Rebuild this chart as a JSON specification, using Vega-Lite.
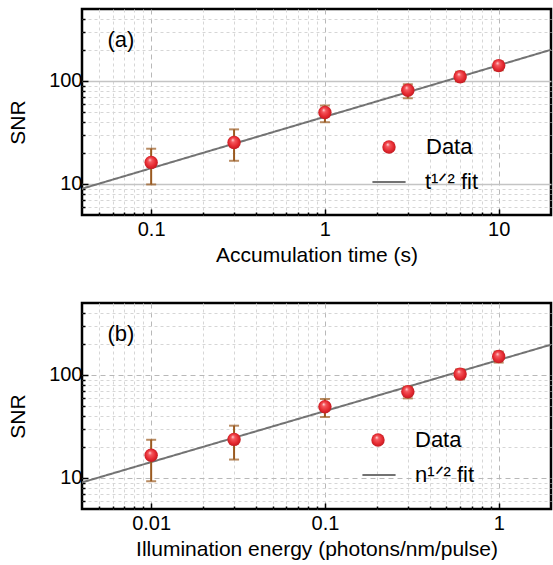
{
  "$schema": "https://vega.github.io/schema/vega-lite/v6.json",
  "padding": {"left": 6, "top": 7, "right": 0, "bottom": 0},
  "background": "white",
  "datasets": {
    "a_data": [
      {"t": 0.1, "snr": 16.2, "lo": 9.9, "hi": 22.0},
      {"t": 0.3, "snr": 25.3, "lo": 16.8, "hi": 33.9},
      {"t": 1, "snr": 49.4, "lo": 39.8, "hi": 57.8},
      {"t": 3, "snr": 81.3, "lo": 68.0, "hi": 92.9},
      {"t": 6, "snr": 110, "lo": 99, "hi": 123},
      {"t": 10, "snr": 141, "lo": 127, "hi": 155}
    ],
    "a_fit": [{"t": 0.04, "snr": 9.0}, {"t": 20, "snr": 201}],
    "b_data": [
      {"t": 0.01, "snr": 16.6, "lo": 9.3, "hi": 23.5},
      {"t": 0.03, "snr": 23.7, "lo": 15.1, "hi": 32.2},
      {"t": 0.1, "snr": 49.2, "lo": 39.1, "hi": 58.5},
      {"t": 0.3, "snr": 68.9, "lo": 59.3, "hi": 77.0},
      {"t": 0.6, "snr": 102, "lo": 90.6, "hi": 113.5},
      {"t": 1, "snr": 151, "lo": 132, "hi": 169}
    ],
    "b_fit": [{"t": 0.004, "snr": 9.06}, {"t": 2, "snr": 197}],
    "a_tag": [{"tag": "(a)"}],
    "b_tag": [{"tag": "(b)"}]
  },
  "config": {
    "font": "Liberation Sans",
    "view": {"stroke": "black", "strokeWidth": 2.5},
    "axis": {
      "domain": false,
      "grid": true,
      "labelOverlap": false,
      "labelFont": "Liberation Sans",
      "labelFontSize": 20,
      "labelColor": "black",
      "titleFont": "Liberation Sans",
      "titleFontSize": 21,
      "titleFontWeight": "normal",
      "titleColor": "black",
      "tickColor": "black",
      "tickWidth": 1.5,
      "gridWidth": 1
    },
    "legend": {
      "title": null,
      "orient": "none",
      "padding": 0,
      "labelFont": "Liberation Sans",
      "labelFontSize": 22,
      "labelColor": "black",
      "labelLimit": 300
    }
  },
  "resolve": {
    "scale": {"x": "independent", "y": "independent", "shape": "independent", "strokeDash": "independent"},
    "legend": {"shape": "independent", "strokeDash": "independent"}
  },
  "spacing": 34,
  "vconcat": [
    {
      "width": 469,
      "height": 206,
      "layer": [
        {
          "data": {"name": "a_fit"},
          "mark": {"type": "line", "color": "#737373", "strokeWidth": 2, "clip": true},
          "encoding": {
            "x": {
              "field": "t", "type": "quantitative", "title": "Accumulation time (s)",
              "scale": {"type": "log", "domain": [0.04, 20], "nice": false},
              "axis": {
                "labelPadding": 10,
                "titlePadding": 2,
                "format": "~g",
                "values": [0.05,0.06,0.07,0.08,0.09,0.1,0.2,0.3,0.4,0.5,0.6,0.7,0.8,0.9,1,2,3,4,5,6,7,8,9,10],
                "labelExpr": "abs(log(datum.value)/LN10 - round(log(datum.value)/LN10)) < 0.001 ? datum.label : ''",
                "tickSize": {"condition": {"test": "abs(log(datum.value)/LN10 - round(log(datum.value)/LN10)) < 0.001", "value": -6}, "value": -3},
                "gridColor": {"condition": {"test": "abs(log(datum.value)/LN10 - round(log(datum.value)/LN10)) < 0.001", "value": "#b8b8b8"}, "value": "#d6d6d6"},
                "gridDash": {"condition": {"test": "abs(log(datum.value)/LN10 - round(log(datum.value)/LN10)) < 0.001", "value": [5, 4]}, "value": [3, 3]}
              }
            },
            "y": {
              "field": "snr", "type": "quantitative", "title": "SNR",
              "scale": {"type": "log", "domain": [5, 500], "nice": false},
              "axis": {
                "labelPadding": 6,
                "titlePadding": 20,
                "titleY": 113,
                "format": "~g",
                "values": [6,7,8,9,10,20,30,40,50,60,70,80,90,100,200,300,400],
                "labelExpr": "abs(log(datum.value)/LN10 - round(log(datum.value)/LN10)) < 0.001 ? datum.label : ''",
                "tickSize": {"condition": {"test": "abs(log(datum.value)/LN10 - round(log(datum.value)/LN10)) < 0.001", "value": -6}, "value": -3},
                "gridColor": {"condition": {"test": "abs(log(datum.value)/LN10 - round(log(datum.value)/LN10)) < 0.001", "value": "#c4c4c4"}, "value": "#d6d6d6"},
                "gridWidth": {"condition": {"test": "abs(log(datum.value)/LN10 - round(log(datum.value)/LN10)) < 0.001", "value": 1.5}, "value": 1},
                "gridDash": {"condition": {"test": "abs(log(datum.value)/LN10 - round(log(datum.value)/LN10)) < 0.001", "value": []}, "value": [3, 3]}
              }
            },
            "strokeDash": {
              "datum": "t¹ᐟ² fit", "type": "nominal",
              "scale": {"range": [[1, 0]]},
              "legend": {"legendX": 289, "legendY": 155, "symbolSize": 1100, "symbolStrokeWidth": 2, "symbolStrokeColor": "#737373", "labelOffset": 18}
            }
          }
        },
        {
          "data": {"name": "a_tag"},
          "mark": {"type": "text", "align": "left", "baseline": "middle", "fontSize": 22, "color": "black", "font": "Liberation Sans"},
          "encoding": {
            "x": {"datum": 0.056, "type": "quantitative"},
            "y": {"datum": 250, "type": "quantitative"},
            "text": {"field": "tag"}
          }
        },
        {
          "data": {"name": "a_data"},
          "mark": {"type": "errorbar", "color": "#9a5a20", "thickness": 2, "ticks": {"size": 10, "thickness": 2, "color": "#9a5a20"}},
          "encoding": {
            "x": {"field": "t", "type": "quantitative", "title": "Accumulation time (s)"},
            "y": {"field": "lo", "type": "quantitative", "title": "SNR"},
            "y2": {"field": "hi"}
          }
        },
        {
          "data": {"name": "a_data"},
          "mark": {
            "type": "point", "filled": true, "size": 180, "opacity": 1, "strokeWidth": 0,
            "fill": {"gradient": "radial", "x1": 0.4, "y1": 0.3, "r1": 0, "x2": 0.5, "y2": 0.5, "r2": 0.55,
              "stops": [{"offset": 0, "color": "#ffe2e2"}, {"offset": 0.25, "color": "#f5585e"}, {"offset": 0.7, "color": "#e3262d"}, {"offset": 1, "color": "#b51a20"}]}
          },
          "encoding": {
            "x": {"field": "t", "type": "quantitative", "title": "Accumulation time (s)"},
            "y": {"field": "snr", "type": "quantitative", "title": "SNR"},
            "shape": {
              "datum": "Data", "type": "nominal",
              "scale": {"range": ["circle"]},
              "legend": {"legendX": 296, "legendY": 127, "symbolSize": 180, "symbolStrokeWidth": 0, "labelOffset": 26}
            }
          }
        }
      ]
    },
    {
      "width": 469,
      "height": 206,
      "layer": [
        {
          "data": {"name": "b_fit"},
          "mark": {"type": "line", "color": "#737373", "strokeWidth": 2, "clip": true},
          "encoding": {
            "x": {
              "field": "t", "type": "quantitative", "title": "Illumination energy (photons/nm/pulse)",
              "scale": {"type": "log", "domain": [0.004, 2], "nice": false},
              "axis": {
                "labelPadding": 10,
                "titlePadding": 2,
                "format": "~g",
                "values": [0.005,0.006,0.007,0.008,0.009,0.01,0.02,0.03,0.04,0.05,0.06,0.07,0.08,0.09,0.1,0.2,0.3,0.4,0.5,0.6,0.7,0.8,0.9,1],
                "labelExpr": "abs(log(datum.value)/LN10 - round(log(datum.value)/LN10)) < 0.001 ? datum.label : ''",
                "tickSize": {"condition": {"test": "abs(log(datum.value)/LN10 - round(log(datum.value)/LN10)) < 0.001", "value": -6}, "value": -3},
                "gridColor": {"condition": {"test": "abs(log(datum.value)/LN10 - round(log(datum.value)/LN10)) < 0.001", "value": "#b8b8b8"}, "value": "#d6d6d6"},
                "gridDash": {"condition": {"test": "abs(log(datum.value)/LN10 - round(log(datum.value)/LN10)) < 0.001", "value": [5, 4]}, "value": [3, 3]}
              }
            },
            "y": {
              "field": "snr", "type": "quantitative", "title": "SNR",
              "scale": {"type": "log", "domain": [5, 500], "nice": false},
              "axis": {
                "labelPadding": 6,
                "titlePadding": 20,
                "titleY": 113,
                "format": "~g",
                "values": [6,7,8,9,10,20,30,40,50,60,70,80,90,100,200,300,400],
                "labelExpr": "abs(log(datum.value)/LN10 - round(log(datum.value)/LN10)) < 0.001 ? datum.label : ''",
                "tickSize": {"condition": {"test": "abs(log(datum.value)/LN10 - round(log(datum.value)/LN10)) < 0.001", "value": -6}, "value": -3},
                "gridColor": {"condition": {"test": "abs(log(datum.value)/LN10 - round(log(datum.value)/LN10)) < 0.001", "value": "#b8b8b8"}, "value": "#d6d6d6"},
                "gridDash": {"condition": {"test": "abs(log(datum.value)/LN10 - round(log(datum.value)/LN10)) < 0.001", "value": [5, 4]}, "value": [3, 3]}
              }
            },
            "strokeDash": {
              "datum": "n¹ᐟ² fit", "type": "nominal",
              "scale": {"range": [[1, 0]]},
              "legend": {"legendX": 279, "legendY": 154, "symbolSize": 1100, "symbolStrokeWidth": 2, "symbolStrokeColor": "#737373", "labelOffset": 18}
            }
          }
        },
        {
          "data": {"name": "b_tag"},
          "mark": {"type": "text", "align": "left", "baseline": "middle", "fontSize": 22, "color": "black", "font": "Liberation Sans"},
          "encoding": {
            "x": {"datum": 0.0056, "type": "quantitative"},
            "y": {"datum": 250, "type": "quantitative"},
            "text": {"field": "tag"}
          }
        },
        {
          "data": {"name": "b_data"},
          "mark": {"type": "errorbar", "color": "#9a5a20", "thickness": 2, "ticks": {"size": 10, "thickness": 2, "color": "#9a5a20"}},
          "encoding": {
            "x": {"field": "t", "type": "quantitative", "title": "Illumination energy (photons/nm/pulse)"},
            "y": {"field": "lo", "type": "quantitative", "title": "SNR"},
            "y2": {"field": "hi"}
          }
        },
        {
          "data": {"name": "b_data"},
          "mark": {
            "type": "point", "filled": true, "size": 180, "opacity": 1, "strokeWidth": 0,
            "fill": {"gradient": "radial", "x1": 0.4, "y1": 0.3, "r1": 0, "x2": 0.5, "y2": 0.5, "r2": 0.55,
              "stops": [{"offset": 0, "color": "#ffe2e2"}, {"offset": 0.25, "color": "#f5585e"}, {"offset": 0.7, "color": "#e3262d"}, {"offset": 1, "color": "#b51a20"}]}
          },
          "encoding": {
            "x": {"field": "t", "type": "quantitative", "title": "Illumination energy (photons/nm/pulse)"},
            "y": {"field": "snr", "type": "quantitative", "title": "SNR"},
            "shape": {
              "datum": "Data", "type": "nominal",
              "scale": {"range": ["circle"]},
              "legend": {"legendX": 285, "legendY": 126, "symbolSize": 180, "symbolStrokeWidth": 0, "labelOffset": 26}
            }
          }
        }
      ]
    }
  ]
}
